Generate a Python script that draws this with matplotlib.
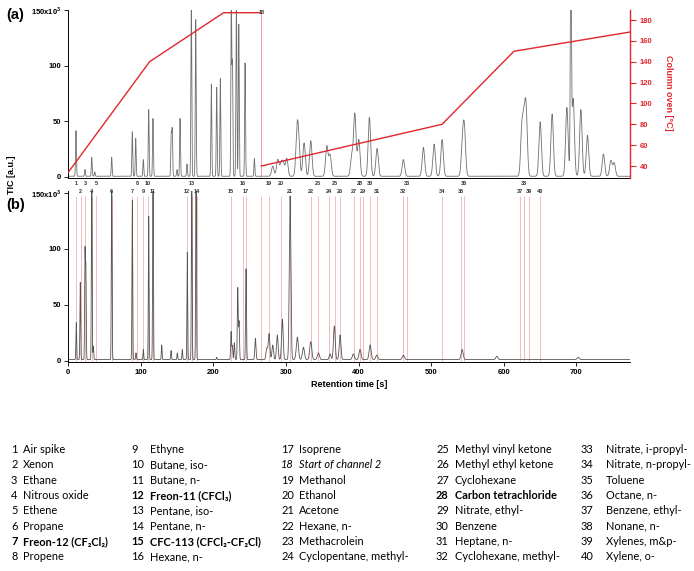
# Two-channel GC-MS chromatogram with oven programme and compound key

import numpy as np
import matplotlib
matplotlib.rcParams['font.family'] = ['Liberation Sans', 'DejaVu Sans']
matplotlib.rcParams['mathtext.fontset'] = 'custom'
matplotlib.rcParams['mathtext.rm'] = 'Liberation Sans:bold'
matplotlib.rcParams['mathtext.bf'] = 'Liberation Sans:bold'
import matplotlib.pyplot as plt

# ---- panel (a): TIC peaks (retention time [s], height [1e3 a.u.], sigma [s])
a_t = [10.6, 23, 32.3, 36.4, 59.8, 88.2, 92.9, 103.4, 110.8, 116.7, 141.8, 143.2,
       149.8, 154, 163.6, 169.5, 175.6, 197.1, 204.5, 209.5, 224.6, 226.2, 231.6,
       234.9, 243.6, 256.4,
       281.7, 288.6, 293.2, 296.3, 301, 315.2, 317.5, 324.9, 334.1, 356.2, 360.7,
       390.6, 394.8, 400.3, 414.9, 425.5, 461.7, 489.3, 504.1, 515.1, 543.1, 545.8,
       625, 628.1, 630.9, 650.2, 666.7, 687, 692.5, 695.7, 706.3, 715.4, 737.4,
       747.6, 752.2]
a_h = [41, 6, 17, 4, 17, 40, 34, 15, 60, 52, 37, 41,
       6, 52, 11, 160, 141, 83, 80, 88, 160, 100, 160,
       137, 102, 16,
       9, 15, 11, 11, 16, 38, 25, 30, 32, 27, 19,
       18, 56, 33, 53, 25, 15, 26, 29, 33, 28, 40,
       42, 42, 55, 49, 56, 62, 190, 70, 60, 37, 20,
       14, 12]
a_w = [0.6] * 26 + [1.7] * 35
a_w[a_t.index(692.5)] = 0.8

# ---- panel (b): channel-resolved peaks
b_t = [11, 16.5, 23, 24.2, 32.3, 34.5, 59.8, 88.2, 93.3, 103.4, 110.8, 116.7, 128.7,
       141.6, 150.2, 157.1, 164, 170.1, 176, 204.5, 224.3, 226, 228.8, 233.5,
       235.3, 244.9, 257.8, 273.5, 276.6, 281.7, 288, 295, 305.6, 315.6, 324,
       334.1, 344.6, 360.7, 366.6, 374.5, 392.8, 402, 415.9, 425.1, 461.7, 542.7,
       590.5, 702.6]
b_h = [33, 69, 96, 80, 175, 12, 175, 142, 6, 9, 128, 175, 13,
       8, 6, 9, 96, 175, 175, 2, 25, 12, 15, 64,
       34, 81, 19, 10, 23, 13, 22, 36, 146, 20, 11,
       16, 6, 5, 30, 22, 5, 9, 13, 4, 4, 9,
       3, 2]
b_w = [0.5] * 20 + [0.6] * 6 + [0.8] + [1.1] * 6 + [1.4] * 4 + [1.2] * 3 + [1.4] * 8

# ---- column oven programme (time [s], temperature [deg C])
oven1_t = [0, 112, 214, 265]
oven1_T = [34, 140, 187, 187]
oven2_t = [266, 515, 614, 774]
oven2_T = [40, 80, 150, 168.5]

# ---- compound positions (number -> retention time [s])
cmp_id = list(range(1, 41))
cmp_t = [10.2, 17.1, 23.0, 32.3, 38.2, 59.8, 87.8, 94.7, 103, 110, 116.4, 163.2,
         170.5, 177.4, 224.3, 240.8, 245, 265.6, 276.6, 293.2, 305.2, 334.1, 344.2,
         359.3, 367.6, 374.5, 393.8, 402, 406.2, 415.4, 425.1, 461.3, 466.4, 515.1,
         541.3, 545.4, 622.2, 628.1, 634.6, 650.2]
upper_row = [1, 3, 5, 8, 10, 13, 16, 19, 20, 23, 25, 28, 30, 33, 36, 38]

names = ['Air spike', 'Xenon', 'Ethane', 'Nitrous oxide', 'Ethene', 'Propane',
         'Freon-12 (CF₂Cl₂)', 'Propene', 'Ethyne', 'Butane, iso-', 'Butane, n-',
         'Freon-11 (CFCl₃)', 'Pentane, iso-', 'Pentane, n-', 'CFC-113 (CFCl₂-CF₂Cl)',
         'Hexane, n-', 'Isoprene', 'Start of channel 2', 'Methanol', 'Ethanol',
         'Acetone', 'Hexane, n-', 'Methacrolein', 'Cyclopentane, methyl-',
         'Methyl vinyl ketone', 'Methyl ethyl ketone', 'Cyclohexane',
         'Carbon tetrachloride', 'Nitrate, ethyl-', 'Benzene', 'Heptane, n-',
         'Cyclohexane, methyl-', 'Nitrate, i-propyl-', 'Nitrate, n-propyl-',
         'Toluene', 'Octane, n-', 'Benzene, ethyl-', 'Nonane, n-', 'Xylenes, m&p-',
         'Xylene, o-']
bold_ids = [7, 12, 15, 28]
italic_ids = [18]


def trace(t, peaks_t, peaks_h, peaks_w):
    y = np.zeros_like(t)
    for t0, h, w in zip(peaks_t, peaks_h, peaks_w):
        y += h * np.exp(-0.5 * ((t - t0) / w) ** 2)
    return y


W, H = 694, 571
fig = plt.figure(figsize=(W / 100, H / 100), dpi=100)
t = np.arange(0, 775, 0.05)
red = '#e0282e'
tickfont = dict(fontsize=5.5, fontweight='bold')

# ---------------- panel (a)
ax1 = fig.add_axes([68.3 / W, 1 - 177.7 / H, (630 - 68.3) / W, 167.7 / H])
ax1.plot(t, trace(t, a_t, a_h, a_w) + 0.3, color='#707070', lw=0.6)
ax1.set_xlim(0, 774)
ax1.set_ylim(-1, 150)
ax1.set_xticks([])
ax1.set_yticks([0, 50, 100, 150])
ax1.set_yticklabels(['0', '50', '100', r'150x10$^{3}$'], **tickfont)
ax1.tick_params(axis='y', direction='out', length=3, width=0.6, pad=2)
ax1.spines['top'].set_visible(False)
ax1.spines['right'].set_visible(False)
for s in ['left', 'bottom']:
    ax1.spines[s].set_linewidth(0.7)
ax1.axvline(cmp_t[17], color='#f08a8a', lw=0.6)
ax1.text(cmp_t[17] + 1, 148, '18', fontsize=4, fontweight='bold', color='#333333',
         ha='center', va='center', clip_on=False)

ax2 = ax1.twinx()
ax2.plot(oven1_t, oven1_T, color=red, lw=1.0)
ax2.plot(oven2_t, oven2_T, color=red, lw=1.0)
ax2.set_ylim(28.8, 189.6)
ax2.set_yticks(range(40, 181, 20))
ax2.set_yticklabels([str(v) for v in range(40, 181, 20)], color=red, **tickfont)
ax2.tick_params(axis='y', colors=red, direction='out', length=4, width=0.8, pad=3)
for s in ['top', 'left', 'bottom']:
    ax2.spines[s].set_visible(False)
ax2.spines['right'].set_color(red)
ax2.spines['right'].set_linewidth(1.0)
fig.text(669 / W, 1 - 93 / H, 'Column oven [°C]', rotation=270, color=red,
         fontsize=6.5, fontweight='bold', ha='center', va='center')

# ---------------- panel (b)
ax3 = fig.add_axes([68.3 / W, 1 - 361.8 / H, (630 - 68.3) / W, 171.3 / H])
ax3.vlines(cmp_t, 0, 147, color='#f0a0a0', lw=0.5)
ax3.plot(t, trace(t, b_t, b_h, b_w) + 1.0, color='#555555', lw=0.6)
ax3.set_xlim(0, 774)
ax3.set_ylim(-1, 152)
ax3.set_yticks([0, 50, 100, 150])
ax3.set_yticklabels(['0', '50', '100', r'150x10$^{3}$'], **tickfont)
ax3.set_xticks(range(0, 701, 100))
ax3.set_xticklabels([str(v) for v in range(0, 701, 100)], **tickfont)
ax3.tick_params(direction='out', length=3, width=0.6, pad=2)
ax3.spines['top'].set_visible(False)
ax3.spines['right'].set_visible(False)
for s in ['left', 'bottom']:
    ax3.spines[s].set_linewidth(0.7)
ax3.set_xlabel('Retention time [s]', fontsize=6.5, fontweight='bold', labelpad=3)

for n, tc in zip(cmp_id, cmp_t):
    if n == 18:
        continue
    yl = 158 if n in upper_row else 151.5
    ax3.text(tc, yl, str(n), fontsize=4, fontweight='bold', color='#333333',
             ha='center', va='center', clip_on=False)

fig.text(12 / W, 1 - 175 / H, 'TIC [a.u.]', rotation=90, fontsize=6.5,
         fontweight='bold', ha='center', va='center')
fig.text(6 / W, 1 - 15 / H, '(a)', fontsize=10.5, fontweight='bold',
         ha='left', va='center')
fig.text(6 / W, 1 - 205 / H, '(b)', fontsize=10.5, fontweight='bold',
         ha='left', va='center')

# ---------------- compound key
num_x = [11, 131, 281, 436, 581]
name_x = [23, 150, 299, 455, 606]
for i, name in enumerate(names):
    col, row = divmod(i, 8)
    y = 1 - (449.3 + row * 15.35) / H
    n = i + 1
    kw = dict(fontsize=7.9, family=['Lato', 'DejaVu Sans'], va='center', ha='left')
    if n in bold_ids:
        kw['fontweight'] = 'bold'
    if n in italic_ids:
        kw['fontstyle'] = 'italic'
    fig.text(num_x[col] / W, y, str(n), **kw)
    fig.text(name_x[col] / W, y, name, **kw)

fig.savefig('out.png', dpi=100)
